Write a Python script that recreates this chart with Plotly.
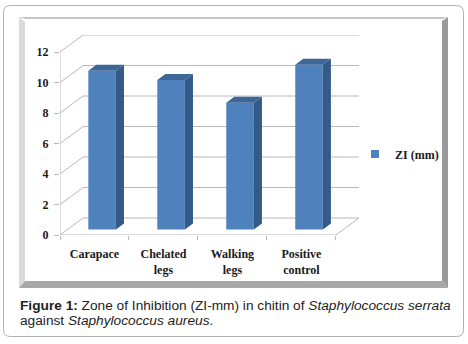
import plotly.graph_objects as go

# ---------------- data ----------------
categories = ["Carapace", "Chelated<br>legs", "Walking<br>legs", "Positive<br>control"]
zi_values = [10.4, 9.8, 8.3, 10.8]
y_ticks = [0, 2, 4, 6, 8, 10, 12]
series_name = "ZI (mm)"

# ---------------- geometry (pseudo 3-D) ----------------
W, H = 468, 344
L, R, T, B = 60, 359, 35, 235          # plot area in pixels
DX, DY = 0.335, 1.115                  # full depth vector in data units
F0, F1 = 0.33, 0.68                    # bar front / back depth fraction
HALF = 0.2                             # half bar width (gap 150%)

FRONT = "#4f81bd"
SIDE = "#345a88"
TOP = "#3e6699"
GRID = "#b8b8b8"
SERIF = "Liberation Serif"
SANS = "Liberation Sans"


def px(x):
    return (x - L) / (R - L)


def py(y):
    return (B - y) / (B - T)


xs = list(range(len(categories)))
xmin, xmax = -0.5, len(categories) - 0.5

fig = go.Figure()

# side faces and top faces built from the values
side_x, side_y, top_x, top_y = [], [], [], []
for i, v in zip(xs, zi_values):
    xr0 = i + HALF + F0 * DX
    xr1 = i + HALF + F1 * DX
    xl0 = i - HALF + F0 * DX
    xl1 = i - HALF + F1 * DX
    side_x += [xr0, xr1, xr1, xr0, xr0, None]
    side_y += [F0 * DY, F1 * DY, v + F1 * DY, v + F0 * DY, F0 * DY, None]
    top_x += [xl0, xr0, xr1, xl1, xl0, None]
    top_y += [v + F0 * DY, v + F0 * DY, v + F1 * DY, v + F1 * DY, v + F0 * DY, None]

fig.add_trace(go.Scatter(x=side_x, y=side_y, fill="toself", fillcolor=SIDE,
                         mode="lines", line=dict(width=0), hoverinfo="skip",
                         showlegend=False))
fig.add_trace(go.Scatter(x=top_x, y=top_y, fill="toself", fillcolor=TOP,
                         mode="lines", line=dict(width=0), hoverinfo="skip",
                         showlegend=False))

# front faces: real bars
fig.add_trace(go.Bar(x=[i + F0 * DX for i in xs], y=zi_values, base=F0 * DY,
                     width=2 * HALF, marker=dict(color=FRONT, line=dict(width=0)),
                     name=series_name, showlegend=False))

# legend entry
fig.add_trace(go.Scatter(x=[None], y=[None], mode="markers", name=series_name,
                         marker=dict(symbol="square", size=8, color=FRONT)))

shapes = []
# back wall grid lines and side wall diagonals
for t in y_ticks:
    shapes.append(dict(type="line", xref="x", yref="y", layer="below",
                       x0=xmin + DX, x1=xmax + DX, y0=t + DY, y1=t + DY,
                       line=dict(color=GRID, width=1)))
    shapes.append(dict(type="line", xref="x", yref="y", layer="below",
                       x0=xmin, x1=xmin + DX, y0=t, y1=t + DY,
                       line=dict(color=GRID, width=1)))
# floor front and right edges
shapes.append(dict(type="line", xref="x", yref="y", layer="below",
                   x0=xmin, x1=xmax, y0=0, y1=0, line=dict(color=GRID, width=1)))
shapes.append(dict(type="line", xref="x", yref="y", layer="below",
                   x0=xmax, x1=xmax + DX, y0=0, y1=DY, line=dict(color=GRID, width=1)))
# vertical axis line
shapes.append(dict(type="line", xref="x", yref="y", layer="below",
                   x0=xmin, x1=xmin, y0=0, y1=max(y_ticks),
                   line=dict(color=GRID, width=1)))


def poly(points, fill, line_color=None):
    d = "M " + " L ".join(f"{px(a):.5f},{py(b):.5f}" for a, b in points) + " Z"
    return dict(type="path", xref="paper", yref="paper", path=d, layer="below",
                fillcolor=fill, line=dict(width=0 if line_color is None else 1,
                                          color=line_color or fill))


# outer rounded page box
x0o, y0o, x1o, y1o, r = 3.5, 5.5, 463.5, 336.5, 7
path = (f"M {px(x0o + r)},{py(y0o)} L {px(x1o - r)},{py(y0o)} "
        f"Q {px(x1o)},{py(y0o)} {px(x1o)},{py(y0o + r)} "
        f"L {px(x1o)},{py(y1o - r)} Q {px(x1o)},{py(y1o)} {px(x1o - r)},{py(y1o)} "
        f"L {px(x0o + r)},{py(y1o)} Q {px(x0o)},{py(y1o)} {px(x0o)},{py(y1o - r)} "
        f"L {px(x0o)},{py(y0o + r)} Q {px(x0o)},{py(y0o)} {px(x0o + r)},{py(y0o)} Z")
shapes.append(dict(type="path", xref="paper", yref="paper", path=path, layer="below",
                   fillcolor="white", line=dict(color="#b0b0b0", width=1)))

# inner chart frame with bevel
fx0, fy0, fx1, fy1 = 19, 17, 448, 288
ix0, iy0, ix1, iy1 = 25, 19, 442, 281
shapes.append(poly([(fx0, fy0), (ix0, iy0 + 3), (ix0, iy1), (fx0, fy1)], "#dadada"))
shapes.append(poly([(fx0, fy0), (fx1, fy0), (ix1, iy0), (ix0, iy0)], "#c6c6c6"))
shapes.append(poly([(fx1, fy0), (fx1, fy1), (ix1, iy1), (ix1, iy0 + 2)], "#9a9a9a"))
shapes.append(poly([(fx0, fy1), (fx1, fy1), (ix1, iy1), (ix0, iy1)], "#a8a8a8"))

annotations = [
    dict(xref="paper", yref="paper", x=px(18), y=py(305), xanchor="left",
         yanchor="middle", showarrow=False,
         text="<b>Figure 1:</b> Zone of Inhibition (ZI-mm) in chitin of "
              "<i>Staphylococcus serrata</i>",
         font=dict(family=SANS, size=13.7, color="#222222")),
    dict(xref="paper", yref="paper", x=px(18), y=py(320), xanchor="left",
         yanchor="middle", showarrow=False,
         text="against <i>Staphylococcus aureus</i>.",
         font=dict(family=SANS, size=13.7, color="#222222")),
]

fig.update_layout(
    template="none",
    width=W, height=H,
    margin=dict(l=L, r=W - R, t=T, b=H - B, pad=0, autoexpand=False),
    paper_bgcolor="white", plot_bgcolor="rgba(0,0,0,0)",
    shapes=shapes, annotations=annotations,
    showlegend=True,
    legend=dict(x=px(355), y=py(154), xanchor="left", yanchor="middle",
                bgcolor="rgba(0,0,0,0)",
                font=dict(family=SERIF, size=12, color="#1a1a1a", weight="bold")),
    xaxis=dict(range=[xmin, xmax + DX], tickvals=xs, ticktext=categories,
               ticks="", showgrid=False, zeroline=False, showline=False,
               ticklabelstandoff=10, automargin=False,
               minor=dict(tickvals=[i - 0.5 for i in xs] + [xmax], ticks="outside",
                          ticklen=4, tickcolor=GRID, showgrid=False),
               tickfont=dict(family=SERIF, size=12, color="#1a1a1a", weight="bold"),
               fixedrange=True),
    yaxis=dict(range=[0, max(y_ticks) + DY], tickvals=y_ticks, ticks="outside",
               ticklen=5, tickcolor=GRID, showgrid=False, zeroline=False,
               showline=False, ticklabelstandoff=3, automargin=False,
               tickfont=dict(family=SERIF, size=12, color="#1a1a1a", weight="bold"),
               fixedrange=True),
)

fig.write_html("out.html", config={"displayModeBar": False},
               post_script="document.body.style.margin='0';")
